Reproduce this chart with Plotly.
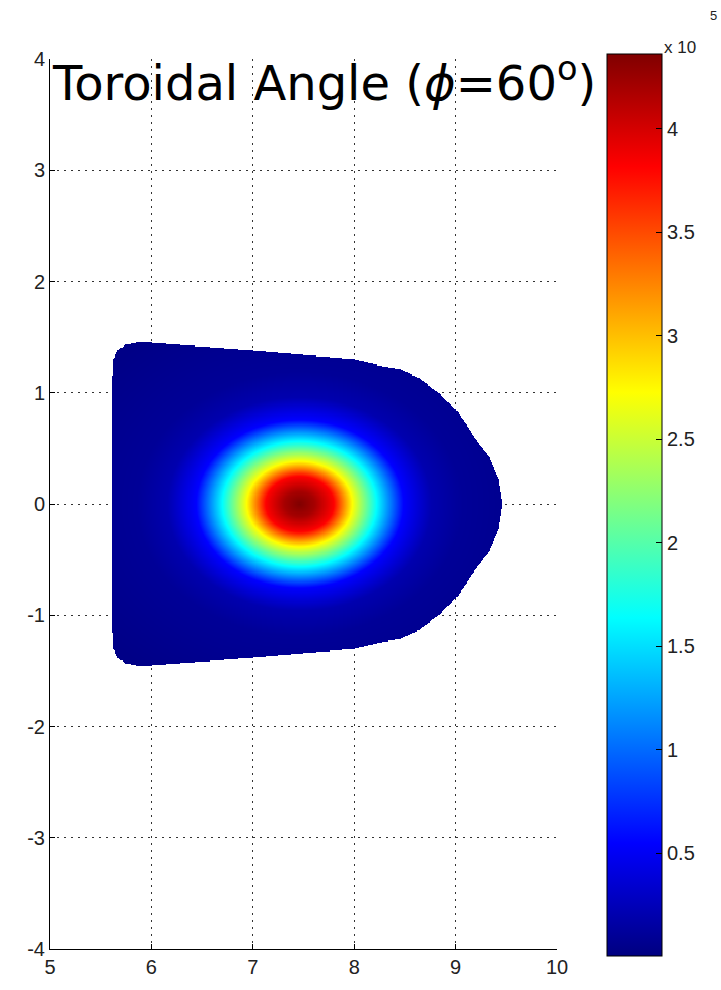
import numpy as np
import plotly.graph_objects as go

# ---- data ----
x_ticks = [5, 6, 7, 8, 9, 10]
x_ticktext = ["5", "6", "7", "8", "9", "10"]
y_ticks = [-4, -3, -2, -1, 0, 1, 2, 3, 4]
y_ticktext = ["-4", "-3", "-2", "-1", "0", "1", "2", "3", "4"]
cbar_tickvals = [0.5e5, 1e5, 1.5e5, 2e5, 2.5e5, 3e5, 3.5e5, 4e5]
cbar_ticktext = ["0.5", "1", "1.5", "2", "2.5", "3", "3.5", "4"]
z_min, z_max = 0.0, 4.36e5

# peak location and elliptical aspect (y radius / x radius)
center_x, center_y = 7.46, 0.0
aspect_y = 0.74

# radial profile (normalised radius, value)
prof_r = [0.0, 0.15, 0.335, 0.52, 0.76, 1.02, 1.3, 1.6, 2.5]
prof_v = [4.36e5, 4.2e5, 3.82e5, 2.72e5, 1.64e5, 0.55e5, 0.2e5, 0.1e5, 0.03e5]

# boundary of the plasma cross-section: x and half-height
bnd_x = [5.616, 5.62, 5.63, 5.67, 5.74, 5.85, 6.0, 7.0, 8.0, 8.25, 8.45, 8.64,
         8.84, 9.0, 9.2, 9.33, 9.42, 9.458]
bnd_h = [1.0, 1.15, 1.30, 1.38, 1.43, 1.45, 1.45, 1.38, 1.30, 1.245, 1.21, 1.13,
         0.99, 0.85, 0.57, 0.42, 0.22, 0.0]

# ---- grid built from the arrays above ----
gx = np.round(np.arange(5.55, 9.52, 0.01), 3)
gy = np.round(np.arange(-1.5, 1.505, 0.01), 3)
X, Y = np.meshgrid(gx, gy)
rho = np.sqrt((X - center_x) ** 2 + ((Y - center_y) / aspect_y) ** 2)
Z = np.interp(rho, prof_r, prof_v)
H = np.interp(X, bnd_x, bnd_h)
outside = (np.abs(Y - center_y) > H) | (X < bnd_x[0]) | (X > bnd_x[-1])
Z = np.round(Z, -1)
Z[outside] = np.nan

jet = [
    [0.0, "rgb(0,0,128)"],
    [0.125, "rgb(0,0,255)"],
    [0.375, "rgb(0,255,255)"],
    [0.625, "rgb(255,255,0)"],
    [0.875, "rgb(255,0,0)"],
    [1.0, "rgb(128,0,0)"],
]

W, Hh = 721, 990
ml, mr, mt, mb = 50, 164, 59, 34
plot_w = W - ml - mr
plot_h = Hh - mt - mb

def px_x(p):
    return (p - ml) / plot_w

def px_y(p):
    return (Hh - mb - p) / plot_h

cb_left, cb_thick = 607, 55
cb_top, cb_len = 58, 902

tick_font = dict(family="Liberation Sans, Arial", size=20, color="#222")

fig = go.Figure()
fig.add_trace(go.Heatmap(
    x=gx, y=gy, z=Z,
    colorscale=jet, zmin=z_min, zmax=z_max,
    zsmooth=False, hoverongaps=False,
    colorbar=dict(
        x=px_x(cb_left), xanchor="left",
        y=px_y(cb_top + cb_len / 2), yanchor="middle",
        thickness=cb_thick, thicknessmode="pixels",
        len=cb_len, lenmode="pixels",
        outlinecolor="black", outlinewidth=1,
        tickvals=cbar_tickvals, ticktext=cbar_ticktext,
        ticks="inside", ticklen=6, tickcolor="black",
        tickfont=tick_font,
        xpad=0, ypad=0,
    ),
))

# left-side inner ticks of the colorbar (MATLAB style)
for v in cbar_tickvals:
    yy = px_y(cb_top + cb_len * (1 - (v - z_min) / (z_max - z_min)))
    fig.add_shape(type="line", xref="paper", yref="paper",
                  x0=px_x(cb_left), x1=px_x(cb_left + 6), y0=yy, y1=yy,
                  line=dict(color="black", width=1))

axis_common = dict(
    showgrid=True, gridcolor="#333", gridwidth=1, griddash="2px,5px",
    zeroline=False, showline=True, linecolor="black", linewidth=1,
    ticks="inside", ticklen=5, tickcolor="black", mirror=False,
    tickfont=tick_font,
)
fig.update_layout(
    width=W, height=Hh,
    margin=dict(l=ml, r=mr, t=mt, b=mb),
    paper_bgcolor="white", plot_bgcolor="white",
    xaxis=dict(range=[5, 10], tickvals=x_ticks, ticktext=x_ticktext, **axis_common),
    yaxis=dict(range=[-4, 4], tickvals=y_ticks, ticktext=y_ticktext, **axis_common),
    showlegend=False,
)

fig.add_annotation(
    xref="paper", yref="paper", x=px_x(50), y=px_y(80),
    xanchor="left", yanchor="middle", showarrow=False,
    text="Toroidal Angle (<i>ϕ</i>=60<sup>o</sup>)",
    font=dict(family="DejaVu Sans", size=48, color="black"),
)
fig.add_annotation(
    xref="paper", yref="paper", x=px_x(680), y=px_y(47),
    xanchor="center", yanchor="middle", showarrow=False,
    text="x 10", font=dict(family="Liberation Sans, Arial", size=17, color="#222"),
)
fig.add_annotation(
    xref="paper", yref="paper", x=px_x(713), y=px_y(15),
    xanchor="center", yanchor="middle", showarrow=False,
    text="5", font=dict(family="Liberation Sans, Arial", size=13, color="#222"),
)

fig.write_html("out.html")
